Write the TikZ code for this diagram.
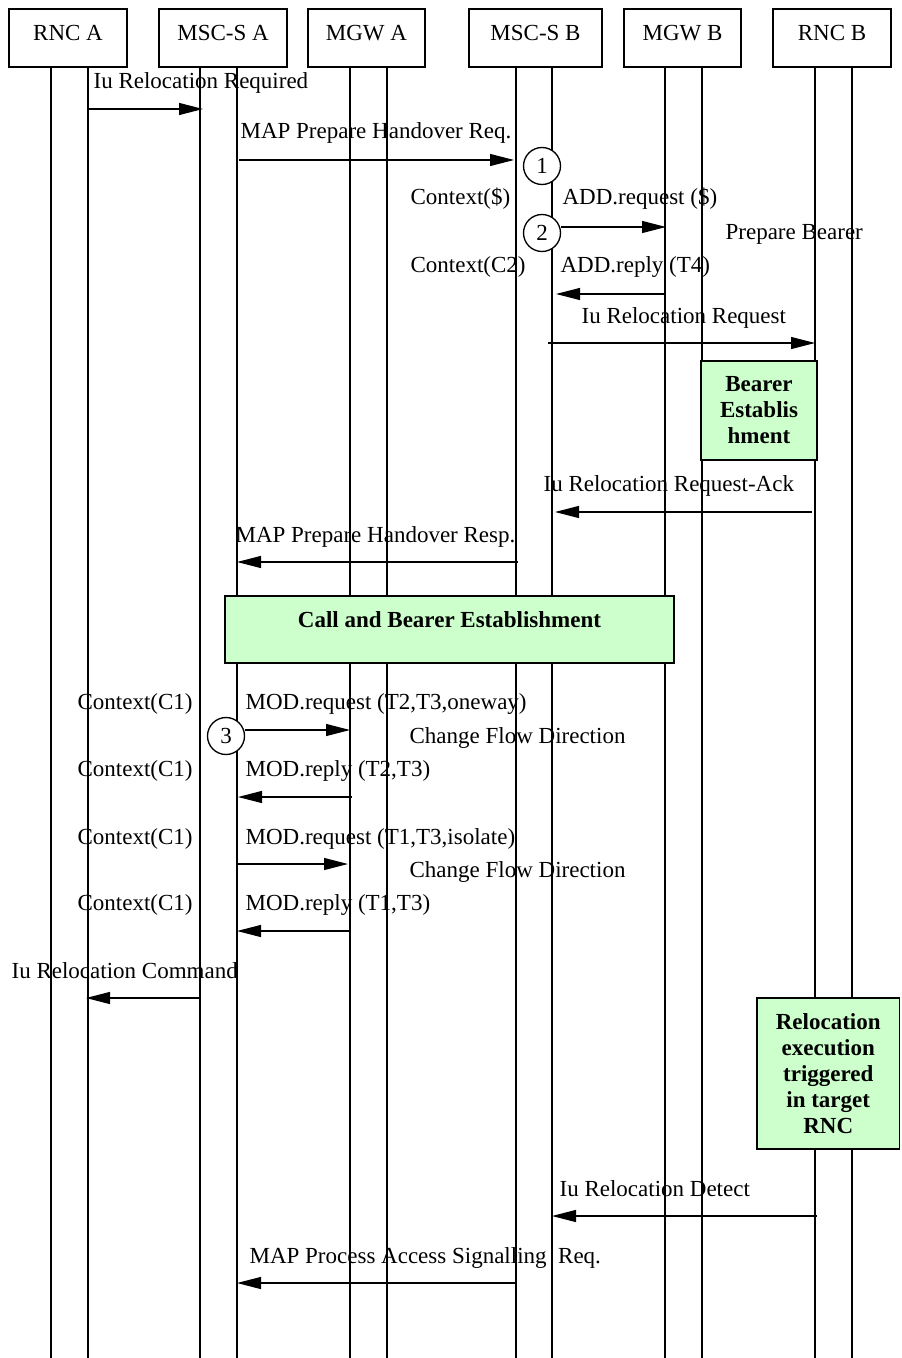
\documentclass[tikz,border=0pt]{standalone}
\usepackage{fontspec}
\setmainfont{Liberation Serif}
\usetikzlibrary{arrows.meta}
\definecolor{bgreen}{RGB}{204,255,204}

\tikzset{every picture/.style={line width=0.9pt}}
\tikzset{
  headbox/.style={draw, line width=1pt, minimum height=43.5pt, inner sep=0pt, text depth=7.5pt},
  greenbox/.style={draw, line width=1pt, fill=bgreen, inner sep=0pt, align=center, font=\fontsize{17.25}{19.5}\selectfont\bfseries},
  numcirc/.style={draw, circle, line width=1pt, minimum size=27.75pt, inner sep=0pt},
  msg/.style={-{Triangle[length=18pt,width=9pt]}, line width=0.9pt},
  lifeline/.style={line width=1.1pt},
  lbl/.style={anchor=base west, inner sep=0.75pt},
}

\begin{document}
\begin{tikzpicture}[x=0.75pt,y=0.75pt,yscale=-1,xscale=1,font=\fontsize{17.25}{19.5}\selectfont]
    \useasboundingbox (0,0) rectangle (901,1358); %diagram is 901 wide and 1358 high

    %Shape: Rectangle [id:rncA]
    \node [headbox, minimum width=88.5pt] (rncA) at (68,38) {RNC A};
    %Shape: Rectangle [id:mscA]
    \node [headbox, minimum width=96pt] (mscA) at (223,38) {MSC-S A};
    %Shape: Rectangle [id:mgwA]
    \node [headbox, minimum width=87.75pt] (mgwA) at (366.5,38) {MGW A};
    %Shape: Rectangle [id:mscB]
    \node [headbox, minimum width=99.75pt] (mscB) at (535.5,38) {MSC-S B};
    %Shape: Rectangle [id:mgwB]
    \node [headbox, minimum width=87.75pt] (mgwB) at (682.5,38) {MGW B};
    %Shape: Rectangle [id:rncB]
    \node [headbox, minimum width=88.5pt] (rncB) at (832,38) {RNC B};

    %Straight Lines [id:lifelines]
    \draw [lifeline] (51,67) -- (51,1358) ;
    \draw [lifeline] (88,67) -- (88,1358) ;
    \draw [lifeline] (200,67) -- (200,1358) ;
    \draw [lifeline] (237,67) -- (237,1358) ;
    \draw [lifeline] (350,67) -- (350,1358) ;
    \draw [lifeline] (387,67) -- (387,1358) ;
    \draw [lifeline] (516,67) -- (516,1358) ;
    \draw [lifeline] (552,67) -- (552,1358) ;
    \draw [lifeline] (665,67) -- (665,1358) ;
    \draw [lifeline] (702,67) -- (702,1358) ;
    \draw [lifeline] (815,67) -- (815,1358) ;
    \draw [lifeline] (852,67) -- (852,1358) ;

    %Shape: Circle [id:step1]
    \node [numcirc, fill=white] (num1) at (542,166) {1};
    %Shape: Circle [id:step2]
    \node [numcirc, fill=white] (num2) at (542,233) {2};
    %Shape: Circle [id:step3]
    \node [numcirc, fill=white] (num3) at (226,736) {3};

    %Shape: Rectangle [id:bearerEst]
    \node [greenbox, minimum width=87pt, minimum height=74.25pt] (bearerEst) at (759,410.5) {Bearer\\Establis\\hment};
    %Shape: Rectangle [id:callEst]
    \node [greenbox, minimum width=336.75pt, minimum height=50.25pt, text depth=15pt] (callEst) at (449.5,629.5) {Call and Bearer Establishment};
    %Shape: Rectangle [id:relocExec]
    \node [greenbox, minimum width=106.9pt, minimum height=113.25pt] (relocExec) at (828.25,1073.5) {Relocation\\execution\\triggered\\in target\\RNC};

    %Straight Lines [id:messages]
    \coordinate (irqS) at (88,109);   \coordinate (irqE) at (203,109);
    \coordinate (phqS) at (239,160);  \coordinate (phqE) at (514,160);
    \coordinate (addqE) at (666,227);
    \coordinate (addpS) at (665,294); \coordinate (addpE) at (556,294);
    \coordinate (irlS) at (548,343);  \coordinate (irlE) at (815,343);
    \coordinate (iraS) at (812,512);  \coordinate (iraE) at (555,512);
    \coordinate (phpS) at (518,562);  \coordinate (phpE) at (237,562);
    \coordinate (mod1E) at (350,730);
    \coordinate (mod1pS) at (352,797); \coordinate (mod1pE) at (238,797);
    \coordinate (mod2S) at (238,864); \coordinate (mod2E) at (348,864);
    \coordinate (mod2pS) at (350,931); \coordinate (mod2pE) at (237,931);
    \coordinate (ircS) at (201,998);  \coordinate (ircE) at (86,998);
    \coordinate (irdS) at (817,1216); \coordinate (irdE) at (552,1216);
    \coordinate (pasS) at (516,1283); \coordinate (pasE) at (237,1283);

    \draw [msg] (irqS) -- (irqE) ;
    \draw [msg] (phqS) -- (phqE) ;
    \draw [msg] (num2.east |- addqE) -- (addqE) ;
    \draw [msg] (addpS) -- (addpE) ;
    \draw [msg] (irlS) -- (irlE) ;
    \draw [msg] (iraS) -- (iraE) ;
    \draw [msg] (phpS) -- (phpE) ;
    \draw [msg] (num3.east |- mod1E) -- (mod1E) ;
    \draw [msg] (mod1pS) -- (mod1pE) ;
    \draw [msg] (mod2S) -- (mod2E) ;
    \draw [msg] (mod2pS) -- (mod2pE) ;
    \draw [msg] (ircS) -- (ircE) ;
    \draw [msg] (irdS) -- (irdE) ;
    \draw [msg] (pasS) -- (pasE) ;

    % Text Node
    \node [lbl] (tIrq) at (92,89) {Iu Relocation Required};
    % Text Node
    \node [lbl] (tPhq) at (239,139) {MAP Prepare Handover Req.};
    % Text Node
    \node [lbl] (tCtx1) at (409,205) {Context(\$)};
    % Text Node
    \node [lbl] (tAddq) at (561,205) {ADD.request (\$)};
    % Text Node
    \node [lbl] (tPrep) at (724,240) {Prepare Bearer};
    % Text Node
    \node [lbl] (tCtx2) at (409,273) {Context(C2)};
    % Text Node
    \node [lbl] (tAddp) at (559,273) {ADD.reply (T4)};
    % Text Node
    \node [lbl] (tIrl) at (580,324) {Iu Relocation Request};
    % Text Node
    \node [lbl] (tIra) at (542,491) {Iu Relocation Request-Ack};
    % Text Node
    \node [lbl] (tPhp) at (234,542) {MAP Prepare Handover Resp.};
    % Text Node
    \node [lbl] (tCtx3) at (76,709) {Context(C1)};
    % Text Node
    \node [lbl] (tMod1) at (244,709) {MOD.request (T2,T3,oneway)};
    % Text Node
    \node [lbl] (tFlow1) at (408,743) {Change Flow Direction};
    % Text Node
    \node [lbl] (tCtx4) at (76,776) {Context(C1)};
    % Text Node
    \node [lbl] (tMod1p) at (244,776) {MOD.reply (T2,T3)};
    % Text Node
    \node [lbl] (tCtx5) at (76,844) {Context(C1)};
    % Text Node
    \node [lbl] (tMod2) at (244,844) {MOD.request (T1,T3,isolate)};
    % Text Node
    \node [lbl] (tFlow2) at (408,877) {Change Flow Direction};
    % Text Node
    \node [lbl] (tCtx6) at (76,910) {Context(C1)};
    % Text Node
    \node [lbl] (tMod2p) at (244,910) {MOD.reply (T1,T3)};
    % Text Node
    \node [lbl] (tIrc) at (10,978) {Iu Relocation Command};
    % Text Node
    \node [lbl] (tIrd) at (558,1196) {Iu Relocation Detect};
    % Text Node
    \node [lbl] (tPas) at (248,1263) {MAP Process Access Signalling\ \ Req.};
\end{tikzpicture}
\end{document}
